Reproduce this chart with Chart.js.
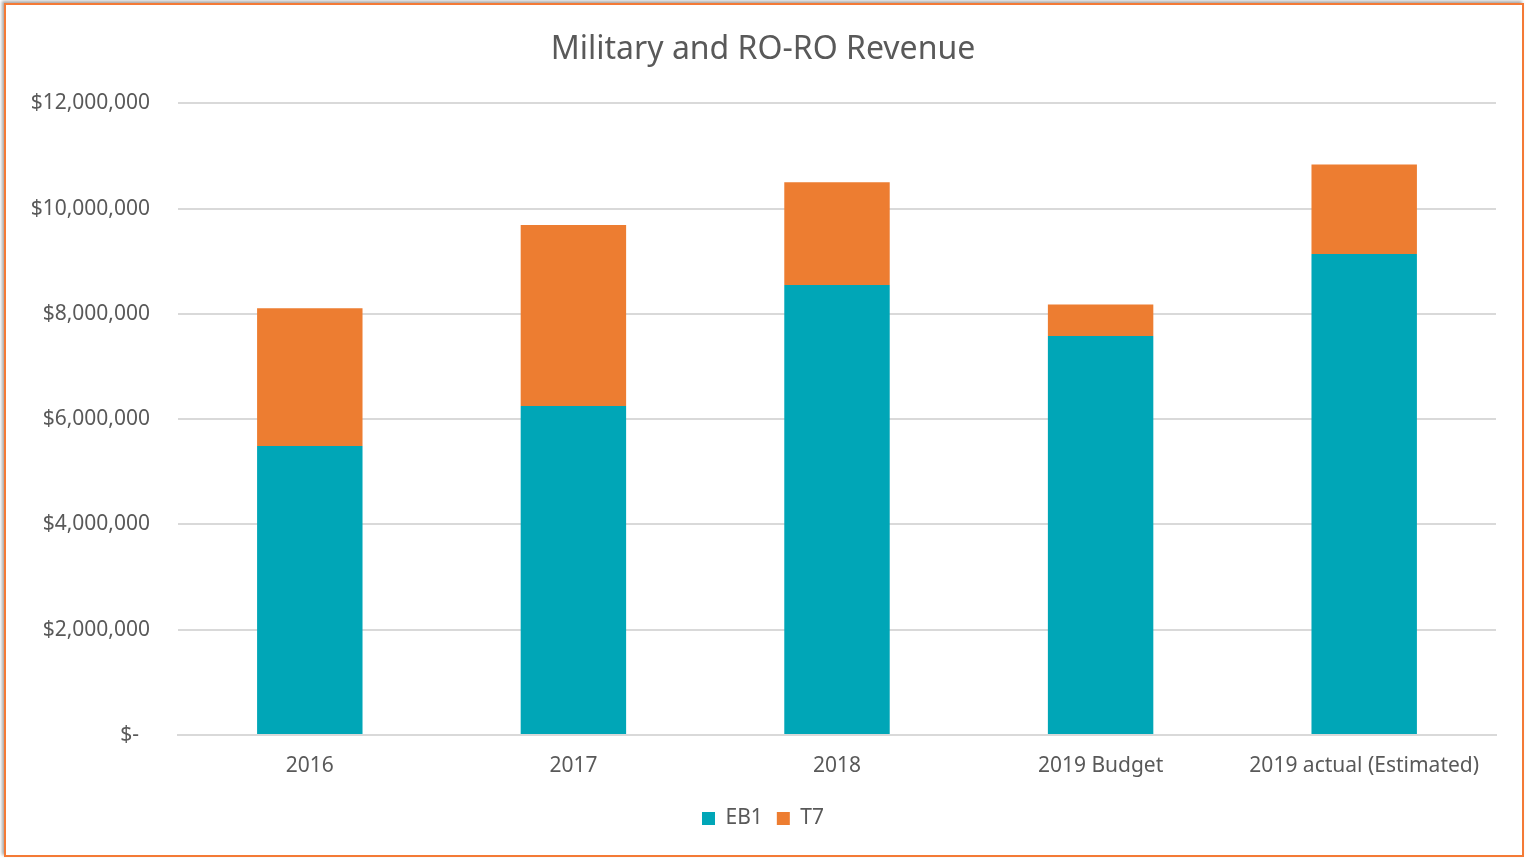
<!DOCTYPE html>
<html>
<head>
<meta charset="utf-8">
<script src="https://cdn.jsdelivr.net/npm/chart.js@4.4.1/dist/chart.umd.min.js"></script>
<style>
  html, body { margin: 0; padding: 0; background: #fff; }
  #wrap { position: absolute; left: 0; top: 0; width: 1526px; height: 858px; }
  #frame {
    position: absolute; left: 4px; top: 3px; width: 1516px; height: 850px;
    border: 2px solid #F47A36; box-shadow: -2px -2px 3px rgba(0,0,0,0.35);
    pointer-events: none;
  }
  canvas { position: absolute; left: 0; top: 0; }
</style>
</head>
<body>
<div id="wrap">
  <canvas id="c" width="1526" height="858"></canvas>
  <div id="frame"></div>
</div>
<script>
// data
var categories = ["2016", "2017", "2018", "2019 Budget", "2019 actual (Estimated)"];
var eb1 = [5490000, 6250000, 8550000, 7580000, 9140000];
var t7  = [2620000, 3440000, 1950000, 600000, 1700000];
var yTicks = [0, 2000000, 4000000, 6000000, 8000000, 10000000, 12000000];

var textColor = '#595959';
var fontFam = "'Noto Sans', 'Open Sans', sans-serif";

function money(v) {
  if (v === 0) return '$-  ';
  return '$' + v.toLocaleString('en-US');
}

var ctx = document.getElementById('c').getContext('2d');
var chart = new Chart(ctx, {
  type: 'bar',
  data: {
    labels: categories,
    datasets: [
      { label: 'EB1', data: eb1, backgroundColor: '#00A6B7', barPercentage: 0.8, categoryPercentage: 0.5 },
      { label: 'T7', data: t7, backgroundColor: '#ED7D31', barPercentage: 0.8, categoryPercentage: 0.5 }
    ]
  },
  options: {
    responsive: false,
    animation: false,
    layout: { padding: { left: 0, right: 0, top: 0, bottom: 19 } },
    plugins: {
      title: {
        display: true,
        text: 'Military and RO-RO Revenue',
        color: textColor,
        font: { family: fontFam, size: 32, weight: 'normal' },
        padding: { top: 31, bottom: 34 }
      },
      legend: {
        position: 'bottom',
        labels: {
          color: textColor,
          font: { family: fontFam, size: 21 },
          boxWidth: 13, boxHeight: 13,
          padding: 14
        }
      },
      tooltip: { enabled: false }
    },
    scales: {
      x: {
        stacked: true,
        grid: { display: false, drawTicks: false },
        border: { color: '#D9D9D9', width: 2 },
        ticks: { color: textColor, font: { family: fontFam, size: 21 }, padding: 18, maxRotation: 0 },
        afterFit: function(s) { s.height = 59; }
      },
      y: {
        stacked: true,
        min: 0, max: 12000000,
        afterBuildTicks: function(s) { s.ticks = yTicks.map(function(v) { return { value: v }; }); },
        grid: { color: '#D9D9D9', lineWidth: 2, drawTicks: false },
        border: { display: false },
        ticks: {
          color: textColor,
          font: { family: fontFam, size: 21 },
          padding: 28,
          callback: function(v) { return money(v); }
        },
        afterFit: function(s) { s.width = 178; }
      },
      // empty right-hand spacer so the plot stops short of the frame
      yRight: {
        position: 'right',
        grid: { display: false, drawTicks: false },
        border: { display: false },
        ticks: { display: false },
        afterFit: function(s) { s.width = 30; }
      }
    }
  }
});
</script>
</body>
</html>
